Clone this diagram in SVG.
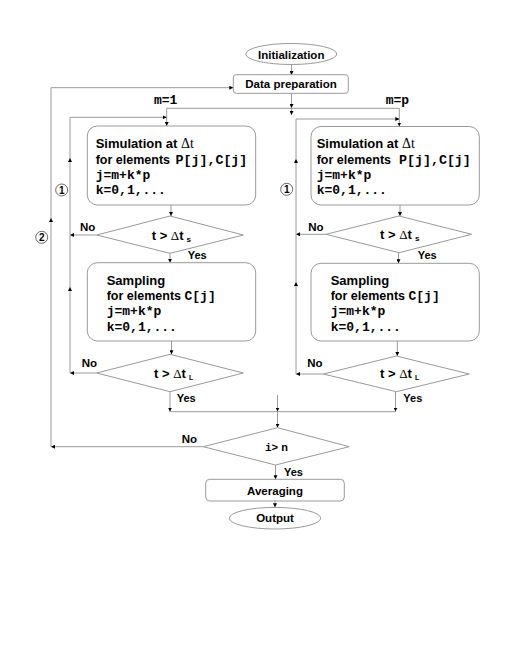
<svg xmlns="http://www.w3.org/2000/svg" width="510" height="660" viewBox="0 0 510 660">
<defs>
<marker id="ah" viewBox="0 0 4 4" refX="4" refY="2" markerWidth="4" markerHeight="4" markerUnits="userSpaceOnUse" orient="auto">
<path d="M0,0 L4,2 L0,4 z" fill="#000"/>
</marker>
<style>
.ln{fill:none;stroke:#9a9a9a;stroke-width:1}
.ar{marker-end:url(#ah)}
.box{fill:#fff;stroke:#9a9a9a;stroke-width:1}
.t{font-family:"Liberation Sans",Arial,sans-serif;font-weight:bold;fill:#000}
.m{font-family:"Liberation Mono","Courier New",monospace;font-weight:bold}
.s{font-family:"Liberation Serif","Times New Roman",serif;font-weight:normal}
.c{text-anchor:middle}
.cir{fill:#fff;stroke:#444;stroke-width:0.8}
</style>
</defs>
<rect width="510" height="660" fill="#fff"/>

<g id="connectors">
<path class="ln ar" d="M291.5,64.5 V75"/>
<path class="ln ar" d="M291.5,93.5 V108"/>
<path class="ln" d="M166.7,108.3 H399.3"/>
<path class="ln ar" d="M166.7,108.3 V126"/>
<path class="ln ar" d="M399.3,108.3 V126.5"/>
<path class="ln ar" d="M291.5,108.3 V115"/>
<!-- left branch -->
<path class="ln ar" d="M171,205 V216"/>
<path class="ln ar" d="M170,253.3 V262.7"/>
<path class="ln ar" d="M96.7,235 H70"/>
<path class="ln ar" d="M171.5,341 V354.3"/>
<path class="ln ar" d="M96.7,373 H70"/>
<path class="ln ar" d="M170,391.7 V411.5"/>
<path class="ln ar" d="M70,373 V287"/>
<path class="ln ar" d="M70,287 V158"/>
<path class="ln ar" d="M70,158 V117.3 H166.7"/>
<!-- right branch -->
<path class="ln ar" d="M400,205 V216"/>
<path class="ln ar" d="M398.5,252.7 V263.3"/>
<path class="ln ar" d="M326,234.3 H296"/>
<path class="ln ar" d="M397.3,341 V356"/>
<path class="ln ar" d="M323.3,374 H296"/>
<path class="ln ar" d="M395.5,391.7 V411.5"/>
<path class="ln ar" d="M296,374 V282"/>
<path class="ln ar" d="M296,282 V159"/>
<path class="ln ar" d="M296,159 V119 H399.3"/>
<!-- join -->
<path class="ln" d="M169.3,411.7 H395.7"/>
<path class="ln ar" d="M277.5,395 V411.5"/>
<path class="ln ar" d="M277.5,411.7 V427.7"/>
<path class="ln ar" d="M203.3,446.7 H51"/>
<path class="ln ar" d="M51,446.7 V218"/>
<path class="ln ar" d="M51,218 V87.7 H233.3"/>
<path class="ln ar" d="M275.5,465 V479.3"/>
<path class="ln ar" d="M275,501 V507.3"/>
</g>

<g id="init">
<ellipse class="box" cx="291.2" cy="54" rx="45.5" ry="10.5"/>
<text class="t c" x="291.2" y="58.5" font-size="11.5">Initialization</text>
</g>
<g id="dataprep">
<rect class="box" x="233.3" y="74.7" width="115" height="18.6" rx="3"/>
<text class="t c" x="291" y="88" font-size="11.5">Data preparation</text>
</g>
<g id="labels-m">
<text class="m" x="154" y="104" font-size="13">m=1</text>
<text class="m" x="385.7" y="104" font-size="13">m=p</text>
</g>

<g id="sim-left">
<rect class="box" x="87.3" y="126" width="168.4" height="79" rx="10"/>
<text class="t" x="95.7" y="148" font-size="13">Simulation at <tspan class="s" font-size="14">Δt</tspan></text>
<text class="t" x="95.7" y="163.5" font-size="12.5">for elements<tspan class="m" x="175.5" font-size="13.3">P[j],C[j]</tspan></text>
<text class="m" x="95.7" y="178.5" font-size="13">j=m+k*p</text>
<text class="m" x="95.7" y="194" font-size="13">k=0,1,...</text>
</g>
<g id="dec-s-left">
<polygon class="box" points="96.7,235 170,216 243.3,235 170,253.3"/>
<text class="t" x="151.7" y="239.5" font-size="13">t &gt; <tspan class="s">Δ</tspan>t<tspan font-size="8" dx="3" dy="2">s</tspan></text>
<text class="t" x="80" y="231" font-size="11.5">No</text>
<text class="t" x="187.7" y="259" font-size="11">Yes</text>
</g>
<g id="samp-left">
<rect class="box" x="87.3" y="262.7" width="168.4" height="78.3" rx="10"/>
<text class="t" x="106.7" y="284.5" font-size="13">Sampling</text>
<text class="t" x="106.7" y="300" font-size="12.5">for elements <tspan class="m" font-size="13">C[j]</tspan></text>
<text class="m" x="106.7" y="315" font-size="13">j=m+k*p</text>
<text class="m" x="106.7" y="330.5" font-size="13">k=0,1,...</text>
</g>
<g id="dec-l-left">
<polygon class="box" points="96.7,373 170,354.3 243.3,373 170,391.7"/>
<text class="t" x="154" y="377.5" font-size="13">t &gt; <tspan class="s">Δ</tspan>t<tspan font-size="7" dx="3" dy="2">L</tspan></text>
<text class="t" x="81.7" y="367.3" font-size="11.5">No</text>
<text class="t" x="176.7" y="401.7" font-size="11">Yes</text>
</g>

<g id="sim-right">
<rect class="box" x="311" y="126.5" width="168.3" height="78.5" rx="10"/>
<text class="t" x="316.7" y="148" font-size="13">Simulation at <tspan class="s" font-size="14">Δt</tspan></text>
<text class="t" x="316.7" y="163.5" font-size="12.5">for elements<tspan class="m" x="399" font-size="13.3">P[j],C[j]</tspan></text>
<text class="m" x="316.7" y="178.5" font-size="13">j=m+k*p</text>
<text class="m" x="316.7" y="194" font-size="13">k=0,1,...</text>
</g>
<g id="dec-s-right">
<polygon class="box" points="326,234.3 399,216 471.7,234.3 399,252.7"/>
<text class="t" x="380" y="239" font-size="13">t &gt; <tspan class="s">Δ</tspan>t<tspan font-size="8" dx="3" dy="2">s</tspan></text>
<text class="t" x="308.3" y="230.7" font-size="11.5">No</text>
<text class="t" x="417.7" y="259.3" font-size="11">Yes</text>
</g>
<g id="samp-right">
<rect class="box" x="311" y="263.3" width="168.3" height="77.7" rx="10"/>
<text class="t" x="330.7" y="284.5" font-size="13">Sampling</text>
<text class="t" x="330.7" y="300" font-size="12.5">for elements <tspan class="m" font-size="13">C[j]</tspan></text>
<text class="m" x="330.7" y="315" font-size="13">j=m+k*p</text>
<text class="m" x="330.7" y="330.5" font-size="13">k=0,1,...</text>
</g>
<g id="dec-l-right">
<polygon class="box" points="323.3,374 396.3,356 469.3,374 396.3,391.7"/>
<text class="t" x="380" y="378" font-size="13">t &gt; <tspan class="s">Δ</tspan>t<tspan font-size="7" dx="3" dy="2">L</tspan></text>
<text class="t" x="307.3" y="367" font-size="11.5">No</text>
<text class="t" x="403.3" y="401.7" font-size="11">Yes</text>
</g>

<g id="loop-markers">
<circle class="cir" cx="61.7" cy="190" r="6"/>
<text class="t c" x="61.7" y="193.6" font-size="10">1</text>
<circle class="cir" cx="286.7" cy="189.3" r="6"/>
<text class="t c" x="286.7" y="192.9" font-size="10">1</text>
<circle class="cir" cx="41.7" cy="237.3" r="6"/>
<text class="t c" x="41.7" y="240.9" font-size="10">2</text>
</g>

<g id="dec-i">
<polygon class="box" points="203.3,446.7 277.5,427.7 349.3,446.7 275.5,465"/>
<text class="t c" x="276.5" y="450.5" font-size="11"><tspan class="m">i&gt;</tspan> n</text>
<text class="t" x="181.7" y="443.3" font-size="11.5">No</text>
<text class="t" x="284" y="475.7" font-size="11">Yes</text>
</g>
<g id="averaging">
<rect class="box" x="205.7" y="479.3" width="138.6" height="21.7" rx="4"/>
<text class="t c" x="275" y="495" font-size="11.5">Averaging</text>
</g>
<g id="output">
<ellipse class="box" cx="275" cy="518.2" rx="45.7" ry="10.8"/>
<text class="t c" x="275" y="522.3" font-size="11.5">Output</text>
</g>
</svg>
